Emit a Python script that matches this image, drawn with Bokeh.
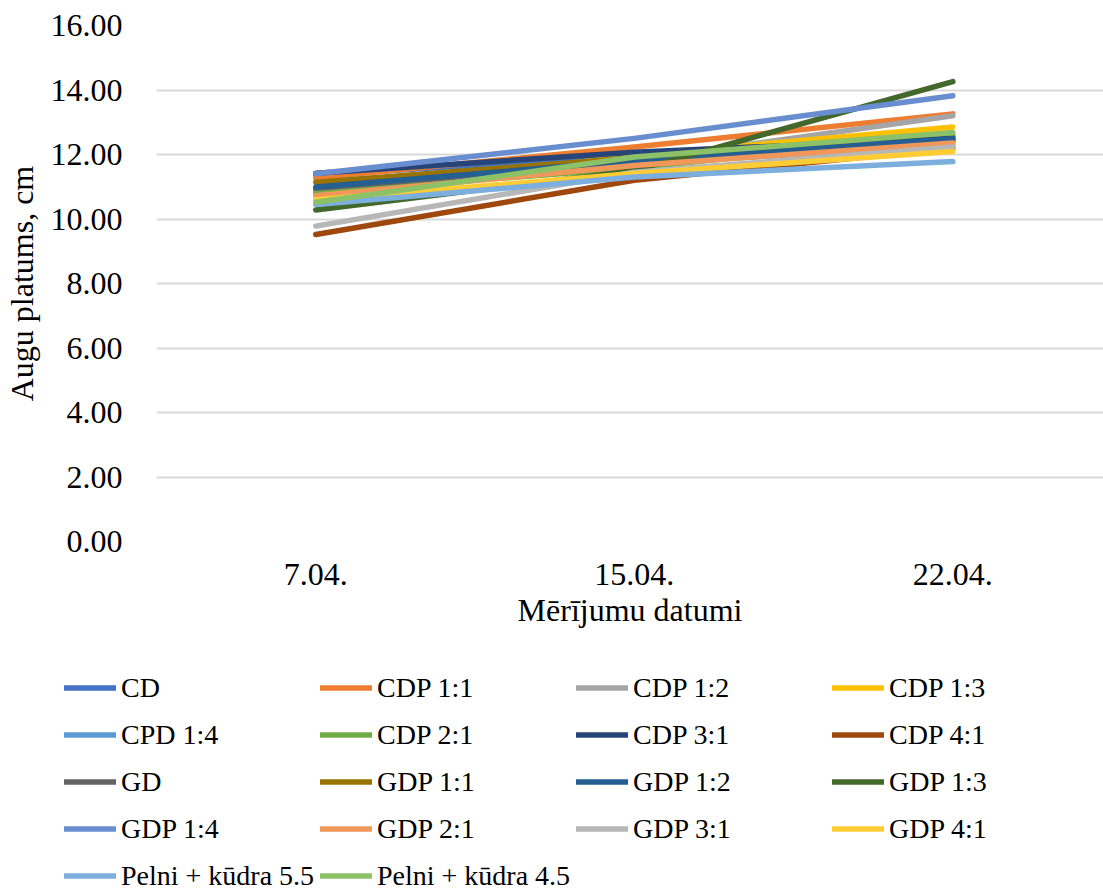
from bokeh.plotting import figure
from bokeh.layouts import column
from bokeh.models import Legend, LegendItem, FixedTicker, NumeralTickFormatter, Range1d
from bokeh.embed import file_html
from bokeh.resources import INLINE

# Measurement dates and plant width (cm) per substrate variant
dates = ["7.04.", "15.04.", "22.04."]

cd = [11.36, 11.98, 12.55]
cdp_1_1 = [11.28, 12.23, 13.26]
cdp_1_2 = [10.60, 11.82, 13.20]
cdp_1_3 = [10.75, 11.97, 12.85]
cpd_1_4 = [10.90, 11.70, 12.30]
cdp_2_1 = [10.83, 11.58, 12.60]
cdp_3_1 = [11.42, 12.07, 12.50]
cdp_4_1 = [9.52, 11.20, 12.20]
gd = [10.95, 11.75, 12.40]
gdp_1_1 = [11.14, 11.90, 12.45]
gdp_1_2 = [10.99, 11.81, 12.49]
gdp_1_3 = [10.28, 11.50, 14.26]
gdp_1_4 = [11.40, 12.50, 13.82]
gdp_2_1 = [10.72, 11.66, 12.36]
gdp_3_1 = [9.78, 11.45, 12.23]
gdp_4_1 = [10.60, 11.41, 12.09]
pelni_5_5 = [10.45, 11.30, 11.78]
pelni_4_5 = [10.52, 11.92, 12.68]

names = ["CD", "CDP 1:1", "CDP 1:2", "CDP 1:3", "CPD 1:4", "CDP 2:1", "CDP 3:1", "CDP 4:1",
         "GD", "GDP 1:1", "GDP 1:2", "GDP 1:3", "GDP 1:4", "GDP 2:1", "GDP 3:1", "GDP 4:1",
         "Pelni + kūdra 5.5", "Pelni + kūdra 4.5"]
series = [cd, cdp_1_1, cdp_1_2, cdp_1_3, cpd_1_4, cdp_2_1, cdp_3_1, cdp_4_1,
          gd, gdp_1_1, gdp_1_2, gdp_1_3, gdp_1_4, gdp_2_1, gdp_3_1, gdp_4_1,
          pelni_5_5, pelni_4_5]
colors = ["#4472C4", "#ED7D31", "#A5A5A5", "#FFC000", "#5B9BD5", "#70AD47", "#264478", "#9E480E",
          "#636363", "#997300", "#255E91", "#43682B", "#698ED0", "#F1975A", "#B7B7B7", "#FFCD33",
          "#7CAFDD", "#8CC168"]

y_ticks = [0, 2, 4, 6, 8, 10, 12, 14, 16]

FONT = "Liberation Serif"
LINE_W = 5.5

# main chart
p = figure(width=1103, height=650, output_backend="svg", toolbar_location=None,
           x_range=Range1d(-0.5, 2.473), y_range=Range1d(0, 16),
           min_border_left=148, min_border_right=0, min_border_top=25, min_border_bottom=109)
p.outline_line_color = None
p.background_fill_color = "white"
p.border_fill_color = "white"

xs = list(range(len(dates)))
for name, vals, col in zip(names, series, colors):
    p.line(xs, vals, line_color=col, line_width=LINE_W, line_cap="round", line_join="round")

p.xaxis.ticker = FixedTicker(ticks=xs)
p.xaxis.major_label_overrides = {i: d for i, d in enumerate(dates)}
p.yaxis.ticker = FixedTicker(ticks=y_ticks)
p.yaxis.formatter = NumeralTickFormatter(format="0.00")
for ax in (p.xaxis[0], p.yaxis[0]):
    ax.axis_line_color = None
    ax.major_tick_line_color = None
    ax.minor_tick_line_color = None
    ax.major_label_text_font = FONT
    ax.major_label_text_font_size = "32px"
    ax.major_label_text_color = "#000000"
    ax.axis_label_text_font = FONT
    ax.axis_label_text_font_size = "32px"
    ax.axis_label_text_font_style = "normal"
    ax.axis_label_text_color = "#000000"
p.xaxis.axis_label = "Mērījumu datumi"
p.yaxis.axis_label = "Augu platums, cm"
p.xaxis.major_label_standoff = 16
p.xaxis.axis_label_standoff = 4
p.yaxis.major_label_standoff = 28
p.yaxis.axis_label_standoff = 8

p.xgrid.grid_line_color = None
p.ygrid.grid_line_color = "#D9D9D9"
p.ygrid.grid_line_width = 2

# legend panel under the chart (its frame spans the full width)
lg = figure(width=1103, height=240, output_backend="svg", toolbar_location=None,
            x_range=Range1d(0, 1), y_range=Range1d(0, 1),
            x_axis_location=None, y_axis_location=None,
            min_border=0, min_border_left=0, min_border_right=0,
            min_border_top=0, min_border_bottom=0)
lg.frame_align = False
lg.outline_line_color = None
lg.xgrid.grid_line_color = None
lg.ygrid.grid_line_color = None
lg.border_fill_color = "white"

nan = float("nan")
items = []
for name, col in zip(names, colors):
    r = lg.line([nan], [nan], line_color=col, line_width=LINE_W, line_cap="round")
    items.append(LegendItem(label=name, renderers=[r]))

legend = Legend(items=items, ncols=4, orientation="horizontal",
                location=(64, -9), border_line_color=None, background_fill_alpha=0,
                padding=0, margin=0, spacing=0,
                glyph_width=52, glyph_height=47, label_standoff=5,
                label_width=199, label_height=47,
                label_text_font=FONT, label_text_font_size="28px",
                label_text_color="#000000", label_text_baseline="middle")
lg.add_layout(legend, "center")

layout = column(p, lg, spacing=0)
open("out.html", "w").write(file_html(layout, INLINE))
